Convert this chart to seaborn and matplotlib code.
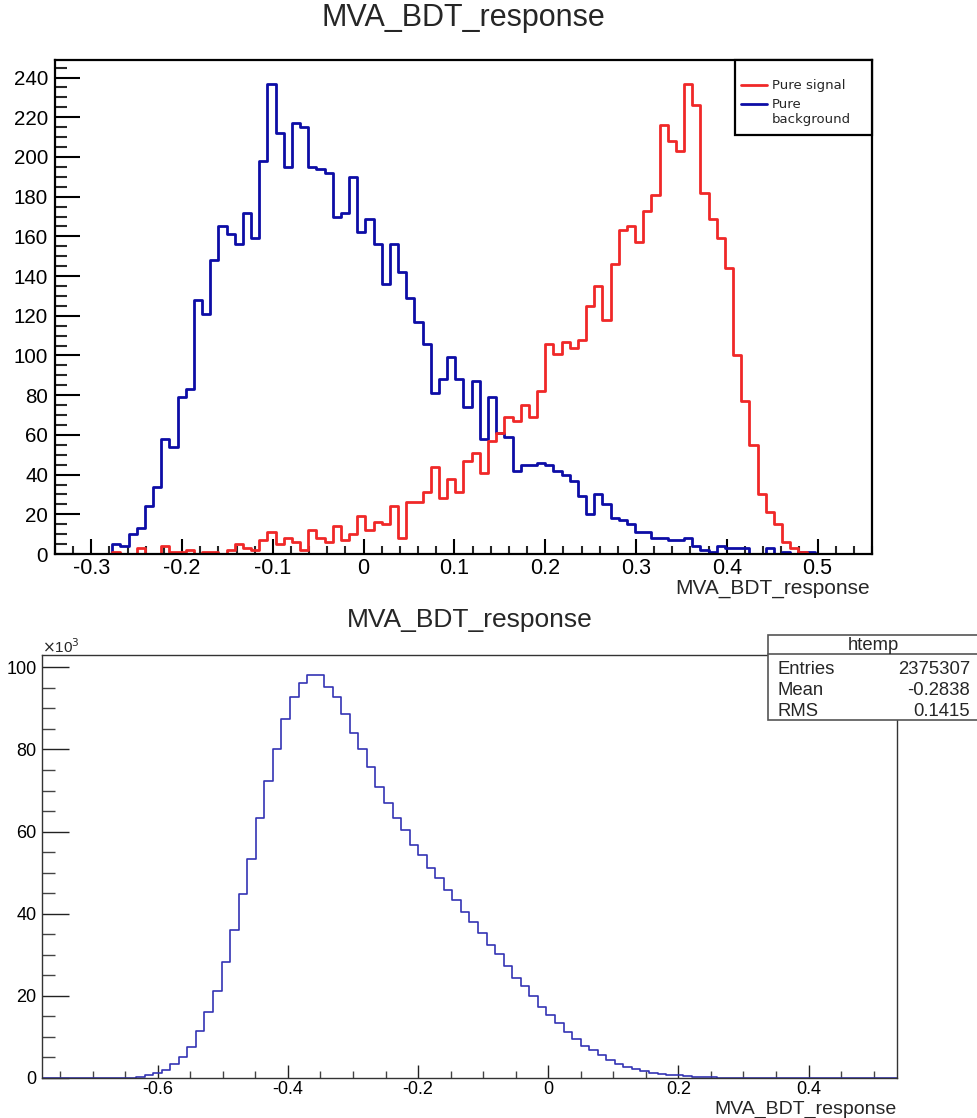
import numpy as np
import pandas as pd
import matplotlib
matplotlib.use("Agg")
import matplotlib.pyplot as plt
import seaborn as sns
from matplotlib.ticker import MultipleLocator, FuncFormatter
from matplotlib.patches import Rectangle
from matplotlib.lines import Line2D

# ---------------- data ----------------
# top panel: 100 bins between top_range[0] and top_range[1]
top_range = (-0.34, 0.56)
signal_counts = [0, 0, 0, 0, 0, 0, 0,
                 1, 0, 0, 3, 0, 0, 4, 1, 1, 2, 0, 1, 1, 0, 2, 5, 3, 2, 7, 11, 5, 8, 6,
                 2, 12, 8, 6, 14, 7, 10, 19, 12, 16, 15, 24, 8, 26, 26, 31, 44, 28, 38, 31,
                 47, 51, 41, 57, 61, 69, 67, 75, 69, 82, 106, 101, 107, 104, 108, 125, 135, 118, 146, 163,
                 165, 157, 173, 181, 216, 208, 203, 237, 226, 182, 169, 159, 144, 100, 77, 55, 30, 21, 15, 6,
                 3, 1,
                 0, 0, 0, 0, 0, 0, 0, 0]
background_counts = [0, 0, 0, 0, 0, 0, 0,
                     5, 4, 10, 13, 24, 34, 58, 54, 79, 83,
                     128, 121, 148, 165, 161, 156, 172, 159, 198, 237,
                     212, 195, 217, 215, 195, 194, 192, 170, 172, 190,
                     162, 169, 156, 136, 156, 142, 129, 117, 106, 81,
                     88, 99, 88, 74, 87, 58, 79, 61, 59, 42,
                     45, 45, 46, 45, 42, 40, 37, 29, 20, 30,
                     25, 18, 17, 15, 11, 11, 8, 8, 7, 7,
                     8, 4, 2, 1, 4, 3, 3, 3, 0, 0,
                     3, 0, 1, 0, 1, 1,
                     0, 0, 0, 0, 0, 0, 0]
sample_labels = ["Pure signal", "Pure\nbackground"]

# bottom panel: 100 bins, counts in thousands
bottom_range = (-0.778, 0.536)
htemp_counts_k = [0] * 11 + [
    0.24, 0.65, 1.2, 2.0, 3.4, 5.2, 7.6, 11.4, 16.1, 21.3,
    28.3, 36.1, 44.7, 53.4, 63.4, 72.3, 80.1, 87.3, 92.7, 96.1,
    98.1, 98.1, 95.1, 92.7, 88.7, 84.0, 80.0, 75.7, 70.8, 66.9,
    63.3, 60.3, 56.7, 54.4, 51.1, 48.6, 45.7, 43.4, 40.4, 38.0,
    35.4, 32.4, 30.2, 27.3, 24.3, 22.4, 19.9, 17.4, 15.4, 13.4,
    11.3, 9.5, 7.7, 6.7, 5.6, 4.3, 3.5, 2.7, 2.3, 1.6,
    1.2, 1.0, 0.7, 0.65, 0.5, 0.3, 0.24, 0.2] + [0] * 21
stats_rows = [("Entries", "2375307"), ("Mean", "-0.2838"), ("RMS", "0.1415")]

# ---------------- style ----------------
sns.set_theme(style="white")
plt.rcParams['font.family'] = ['Liberation Sans', 'DejaVu Sans']

RED = "#f02828"
BLUE = "#0d0da6"
BLUE2 = "#3434b4"

W, H = 978, 1118
fig = plt.figure(figsize=(W / 100, H / 100), dpi=100)
fig.patch.set_facecolor("white")


def fx(x):
    return x / W


def fy(y):
    return 1 - y / H


def axes_px(l, t, r, b):
    return fig.add_axes([fx(l), fy(b), (r - l) / W, (b - t) / H])


def fmt(v, p):
    v = round(v, 6)
    if abs(v) < 1e-9:
        return "0"
    return f"{v:g}"


PT = 72 / 100  # points per pixel

# ---------------- top panel ----------------
ax1 = axes_px(55, 60, 872, 554)
nb1 = len(signal_counts)
edges1 = np.linspace(top_range[0], top_range[1], nb1 + 1)
centers1 = 0.5 * (edges1[:-1] + edges1[1:])
df_sig = pd.DataFrame({"x": centers1, "w": np.array(signal_counts, dtype=float)})
df_bkg = pd.DataFrame({"x": centers1, "w": np.array(background_counts, dtype=float)})
sns.histplot(data=df_bkg, x="x", weights="w", bins=nb1, binrange=top_range,
             element="step", fill=False, linewidth=2.0, color=BLUE, ax=ax1)
sns.histplot(data=df_sig, x="x", weights="w", bins=nb1, binrange=top_range,
             element="step", fill=False, linewidth=2.0, color=RED, ax=ax1)
ax1.set_xlim(edges1[0], edges1[-1])
ax1.set_ylim(0, 1.05 * max(max(signal_counts), max(background_counts)))
ax1.set_xlabel("")
ax1.set_ylabel("")
ax1.xaxis.set_major_locator(MultipleLocator(0.1))
ax1.xaxis.set_minor_locator(MultipleLocator(0.02))
ax1.yaxis.set_major_locator(MultipleLocator(20))
ax1.yaxis.set_minor_locator(MultipleLocator(5))
ax1.xaxis.set_major_formatter(FuncFormatter(fmt))
ax1.tick_params(axis="x", which="major", direction="in", length=15 * PT, width=1.5, pad=3,
                labelsize=15.5, colors="black", bottom=True, top=False)
ax1.tick_params(axis="x", which="minor", direction="in", length=8 * PT, width=1.5, bottom=True, top=False)
ax1.tick_params(axis="y", which="major", direction="in", length=25 * PT, width=1.5, pad=5,
                labelsize=14.8, colors="black", left=True, right=False)
ax1.tick_params(axis="y", which="minor", direction="in", length=12 * PT, width=1.5, left=True, right=False)
for s in ax1.spines.values():
    s.set_color("black")
    s.set_linewidth(1.6)

# legend box (top-right)
fig.add_artist(Rectangle((fx(735), fy(135)), (872 - 735) / W, 75 / H, transform=fig.transFigure,
                         facecolor="white", edgecolor="black", linewidth=1.6, zorder=5))
fig.add_artist(Line2D([fx(741), fx(767)], [fy(85), fy(85)], transform=fig.transFigure,
                      color=RED, linewidth=2, zorder=6))
fig.add_artist(Line2D([fx(741), fx(767)], [fy(104), fy(104)], transform=fig.transFigure,
                      color=BLUE, linewidth=2, zorder=6))
fig.text(fx(772), fy(85), sample_labels[0], ha="left", va="center", fontsize=9.5,
         family=["DejaVu Sans"], zorder=7)
fig.text(fx(772), fy(112), sample_labels[1], ha="left", va="center", fontsize=9.5,
         family=["DejaVu Sans"], linespacing=1.25, zorder=7)

fig.text(fx(463), fy(18), "MVA_BDT_response", ha="center", va="center", fontsize=22)
fig.text(fx(870), fy(589), "MVA_BDT_response", ha="right", va="center", fontsize=15)

# ---------------- bottom panel ----------------
ax2 = axes_px(42, 655, 897, 1078)
nb2 = len(htemp_counts_k)
edges2 = np.linspace(bottom_range[0], bottom_range[1], nb2 + 1)
centers2 = 0.5 * (edges2[:-1] + edges2[1:])
df2 = pd.DataFrame({"x": centers2, "w": np.array(htemp_counts_k, dtype=float)})
sns.histplot(data=df2, x="x", weights="w", bins=nb2, binrange=bottom_range, element="step",
             fill=False, color=BLUE2, linewidth=1.2, ax=ax2)
ax2.set_xlim(edges2[0], edges2[-1])
ax2.set_ylim(0, 1.05 * max(htemp_counts_k))
ax2.set_xlabel("")
ax2.set_ylabel("")
ax2.xaxis.set_major_locator(MultipleLocator(0.2))
ax2.xaxis.set_minor_locator(MultipleLocator(0.05))
ax2.yaxis.set_major_locator(MultipleLocator(20))
ax2.yaxis.set_minor_locator(MultipleLocator(5))
ax2.xaxis.set_major_formatter(FuncFormatter(fmt))
ax2.yaxis.set_major_formatter(FuncFormatter(fmt))
ax2.tick_params(axis="x", which="major", direction="in", length=13 * PT, width=1.0, pad=2.5,
                labelsize=13, colors="#222222", labelcolor="black", bottom=True, top=False)
ax2.tick_params(axis="x", which="minor", direction="in", length=7 * PT, width=1.0,
                colors="#444444", bottom=True, top=False)
ax2.tick_params(axis="y", which="major", direction="in", length=27 * PT, width=1.0, pad=4,
                labelsize=13, colors="#222222", labelcolor="black", left=True, right=False)
ax2.tick_params(axis="y", which="minor", direction="in", length=13 * PT, width=1.0,
                colors="#444444", left=True, right=False)
for s in ax2.spines.values():
    s.set_color("#333333")
    s.set_linewidth(1.0)

fig.text(fx(42), fy(647), r"$\times$10$^{3}$", ha="left", va="center", fontsize=11)
fig.text(fx(470), fy(620), "MVA_BDT_response", ha="center", va="center", fontsize=19)
fig.text(fx(897), fy(1109), "MVA_BDT_response", ha="right", va="center", fontsize=14)

# stats box
fig.add_artist(Rectangle((fx(768), fy(720)), (990 - 768) / W, (720 - 635) / H, transform=fig.transFigure,
                         facecolor="white", edgecolor="#555555", linewidth=1.2, zorder=5))
fig.add_artist(Line2D([fx(768), fx(990)], [fy(654), fy(654)], transform=fig.transFigure,
                      color="#555555", linewidth=1.2, zorder=6))
fig.text(fx(873), fy(645), "htemp", ha="center", va="center", fontsize=13.3, zorder=7)
for i, (name, val) in enumerate(stats_rows):
    yy = 669 + i * 21.5
    fig.text(fx(778), fy(yy), name, ha="left", va="center", fontsize=13.3, zorder=7)
    fig.text(fx(970), fy(yy), val, ha="right", va="center", fontsize=13.3, zorder=7)

fig.savefig("out.png", dpi=100, facecolor="white")
